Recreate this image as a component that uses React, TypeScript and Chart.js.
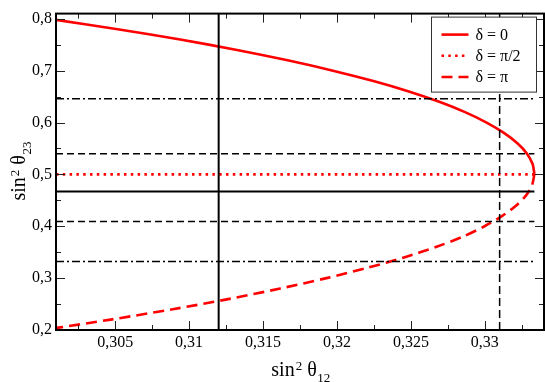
import React, { useEffect, useRef } from "react";
import { Chart, registerables } from "chart.js";

Chart.register(...registerables);

// ---- data ----
const xTicks = [0.305, 0.31, 0.315, 0.32, 0.325, 0.33];
const xTickLabels = ["0,305", "0,31", "0,315", "0,32", "0,325", "0,33"];
const xMinorTicks = [0.3025, 0.3075, 0.3125, 0.3175, 0.3225, 0.3275, 0.3325];
const yTicks = [0.2, 0.3, 0.4, 0.5, 0.6, 0.7, 0.8];
const yTickLabels = ["0,2", "0,3", "0,4", "0,5", "0,6", "0,7", "0,8"];
const yMinorTicks = [0.25, 0.35, 0.45, 0.55, 0.65, 0.75];

// δ = 0 branch (solid red)
const delta0X = [0.30098, 0.30517, 0.3094, 0.31324, 0.31666, 0.31973, 0.32246, 0.32486, 0.32692, 0.32866, 0.33012, 0.33129, 0.3322, 0.33285, 0.33323, 0.33335];
const delta0Y = [0.798, 0.78, 0.76, 0.74, 0.72, 0.7, 0.68, 0.66, 0.64, 0.62, 0.6, 0.58, 0.56, 0.54, 0.52, 0.501];
// δ = π branch (dashed red)
const deltaPiX = [0.33335, 0.3332, 0.3328, 0.33212, 0.33118, 0.32998, 0.32852, 0.32669, 0.32454, 0.32208, 0.31929, 0.31616, 0.31273, 0.30889, 0.30469, 0.30128, 0.30095];
const deltaPiY = [0.501, 0.48, 0.46, 0.44, 0.42, 0.4, 0.38, 0.36, 0.34, 0.32, 0.3, 0.28, 0.26, 0.24, 0.22, 0.205, 0.2037];
// δ = π/2 (dotted red)
const deltaHalfPiY = 0.5;
const lineXStart = 0.301;
const lineXEnd = 0.33335;

// black reference lines
const hLineSolid = [0.467];
const hLinesDashed = [0.54, 0.409];
const hLinesDashDot = [0.646, 0.332];
const vLineSolid = 0.312;
const vLineDashed = 0.331;

const xMin = 0.301;
const xMax = 0.334;
const yMin = 0.2;
const yMax = 0.81;

const legendLabels = ["δ = 0", "δ = π/2", "δ = π"];

const SERIF = "'Liberation Serif', 'Times New Roman', 'DejaVu Serif', serif";
const RED = "#ff0000";

const redSolidStyle = { color: RED, width: 2.6, dash: [] as number[] };
const redDottedStyle = { color: RED, width: 2.6, dash: [2.5, 4.3] };
const redDashedStyle = { color: RED, width: 2.6, dash: [11, 6] };
const legendStyles = [redSolidStyle, redDottedStyle, redDashedStyle];

function pts(xs: number[], ys: number[]) {
  return xs.map((x, i) => ({ x, y: ys[i] }));
}

function hLine(y: number) {
  return [
    { x: lineXStart, y },
    { x: lineXEnd, y },
  ];
}
function vLine(x: number) {
  return [
    { x, y: yMin },
    { x, y: yMax },
  ];
}

const base = {
  showLine: true,
  pointRadius: 0,
  pointHoverRadius: 0,
  fill: false,
  borderCapStyle: "butt" as const,
};

const decorPlugin = {
  id: "decor",
  afterDraw(chart: any) {
    const { ctx, chartArea, scales } = chart;
    const { left, right, top, bottom } = chartArea;
    const xs = scales.x;
    const ys = scales.y;
    ctx.save();
    // ticks (inward on all sides)
    ctx.strokeStyle = "#222";
    ctx.lineWidth = 1;
    ctx.setLineDash([]);
    const drawX = (v: number, len: number) => {
      const p = Math.round(xs.getPixelForValue(v)) + 0.5;
      ctx.beginPath();
      ctx.moveTo(p, bottom);
      ctx.lineTo(p, bottom - len);
      ctx.moveTo(p, top);
      ctx.lineTo(p, top + len);
      ctx.stroke();
    };
    const drawY = (v: number, len: number) => {
      const p = Math.round(ys.getPixelForValue(v)) + 0.5;
      ctx.beginPath();
      ctx.moveTo(left, p);
      ctx.lineTo(left + len, p);
      ctx.moveTo(right, p);
      ctx.lineTo(right - len, p);
      ctx.stroke();
    };
    xTicks.forEach((v) => drawX(v, 9));
    xMinorTicks.forEach((v) => drawX(v, 5));
    yTicks.forEach((v) => drawY(v, 9));
    yMinorTicks.forEach((v) => drawY(v, 5));

    // frame
    ctx.strokeStyle = "#000";
    ctx.lineWidth = 2;
    ctx.strokeRect(left, top, right - left, bottom - top);

    // legend
    const bx = right - 112.5;
    const by = top + 3.5;
    const bw = 105;
    const bh = 75;
    ctx.fillStyle = "#fff";
    ctx.fillRect(bx, by, bw, bh);
    ctx.strokeStyle = "#333";
    ctx.lineWidth = 1;
    ctx.strokeRect(bx, by, bw, bh);
    ctx.font = `16px ${SERIF}`;
    ctx.textBaseline = "middle";
    ctx.textAlign = "left";
    legendLabels.forEach((lab, i) => {
      const st = legendStyles[i];
      const yy = by + 17.5 + i * 21.2;
      ctx.strokeStyle = st.color;
      ctx.lineWidth = st.width;
      ctx.setLineDash(st.dash);
      ctx.beginPath();
      ctx.moveTo(bx + 10, yy);
      ctx.lineTo(bx + 37, yy);
      ctx.stroke();
      ctx.setLineDash([]);
      ctx.fillStyle = "#000";
      ctx.fillText(lab, bx + 44, yy + 1);
    });

    // axis titles
    const drawTitle = (cx: number, baseY: number, main: string, sup: string, sub: string) => {
      ctx.textAlign = "left";
      ctx.textBaseline = "alphabetic";
      ctx.fillStyle = "#000";
      const mainFont = `20px ${SERIF}`;
      const smallFont = `13px ${SERIF}`;
      ctx.font = mainFont;
      const wSin = ctx.measureText("sin").width;
      const wTheta = ctx.measureText(main).width;
      ctx.font = smallFont;
      const wSup = ctx.measureText(sup).width;
      const wSub = ctx.measureText(sub).width;
      const gap = 5;
      const total = wSin + wSup + gap + wTheta + wSub;
      let x = cx - total / 2;
      ctx.font = mainFont;
      ctx.fillText("sin", x, baseY);
      x += wSin + 1;
      ctx.font = smallFont;
      ctx.fillText(sup, x, baseY - 6);
      x += wSup + gap;
      ctx.font = mainFont;
      ctx.fillText(main, x, baseY);
      x += wTheta + 0.5;
      ctx.font = smallFont;
      ctx.fillText(sub, x, baseY + 6);
    };
    drawTitle((left + right) / 2, 375.5, "θ", "2", "12");
    ctx.save();
    ctx.translate(25, (top + bottom) / 2);
    ctx.rotate(-Math.PI / 2);
    drawTitle(0, 0, "θ", "2", "23");
    ctx.restore();

    ctx.restore();
  },
};

export default function App() {
  const ref = useRef<HTMLCanvasElement | null>(null);
  useEffect(() => {
    document.body.style.margin = "0";
    const canvas = ref.current;
    if (!canvas) return;
    const datasets: any[] = [];
    // black lines (on top)
    hLineSolid.forEach((y) =>
      datasets.push({ ...base, data: hLine(y), borderColor: "#000", borderWidth: 2, order: 0 })
    );
    hLinesDashed.forEach((y) =>
      datasets.push({ ...base, data: hLine(y), borderColor: "#000", borderWidth: 1.5, borderDash: [7, 4], order: 0 })
    );
    hLinesDashDot.forEach((y) =>
      datasets.push({ ...base, data: hLine(y), borderColor: "#000", borderWidth: 1.5, borderDash: [8, 3, 2, 3], order: 0 })
    );
    datasets.push({ ...base, data: vLine(vLineSolid), borderColor: "#000", borderWidth: 2, order: 0 });
    datasets.push({ ...base, data: vLine(vLineDashed), borderColor: "#000", borderWidth: 1.5, borderDash: [8, 4], order: 0 });
    // red curves
    datasets.push({
      ...base,
      label: legendLabels[0],
      data: pts(delta0X, delta0Y),
      borderColor: RED,
      borderWidth: redSolidStyle.width,
      tension: 0.3,
      order: 1,
    });
    datasets.push({
      ...base,
      label: legendLabels[1],
      data: hLine(deltaHalfPiY),
      borderColor: RED,
      borderWidth: redDottedStyle.width,
      borderDash: redDottedStyle.dash,
      order: 1,
    });
    datasets.push({
      ...base,
      label: legendLabels[2],
      data: pts(deltaPiX, deltaPiY),
      borderColor: RED,
      borderWidth: redDashedStyle.width,
      borderDash: redDashedStyle.dash,
      tension: 0.3,
      order: 1,
    });

    const tickFont = { family: SERIF, size: 16 };
    const chart = new Chart(canvas, {
      type: "scatter",
      data: { datasets },
      options: {
        responsive: false,
        animation: false,
        events: [],
        layout: { padding: { top: 2, right: 1, left: 0, bottom: 0 } },
        plugins: { legend: { display: false }, tooltip: { enabled: false } },
        scales: {
          x: {
            type: "linear",
            min: xMin,
            max: xMax,
            afterBuildTicks: (s: any) => {
              s.ticks = xTicks.map((v) => ({ value: v }));
            },
            afterFit: (s: any) => {
              s.height = 52;
            },
            ticks: {
              callback: (_v: any, i: number) => xTickLabels[i],
              font: tickFont,
              color: "#000",
              padding: 3,
              maxRotation: 0,
              autoSkip: false,
            },
            grid: { display: false, drawTicks: false },
            border: { display: false },
          },
          y: {
            type: "linear",
            min: yMin,
            max: yMax,
            afterBuildTicks: (s: any) => {
              s.ticks = yTicks.map((v) => ({ value: v }));
            },
            afterFit: (s: any) => {
              s.width = 56;
            },
            ticks: {
              callback: (_v: any, i: number) => yTickLabels[i],
              font: tickFont,
              color: "#000",
              padding: 4,
              autoSkip: false,
            },
            grid: { display: false, drawTicks: false },
            border: { display: false },
          },
        },
      } as any,
      plugins: [decorPlugin],
    });
    return () => chart.destroy();
  }, []);
  return <canvas ref={ref} width={545} height={382} style={{ display: "block" }} />;
}
